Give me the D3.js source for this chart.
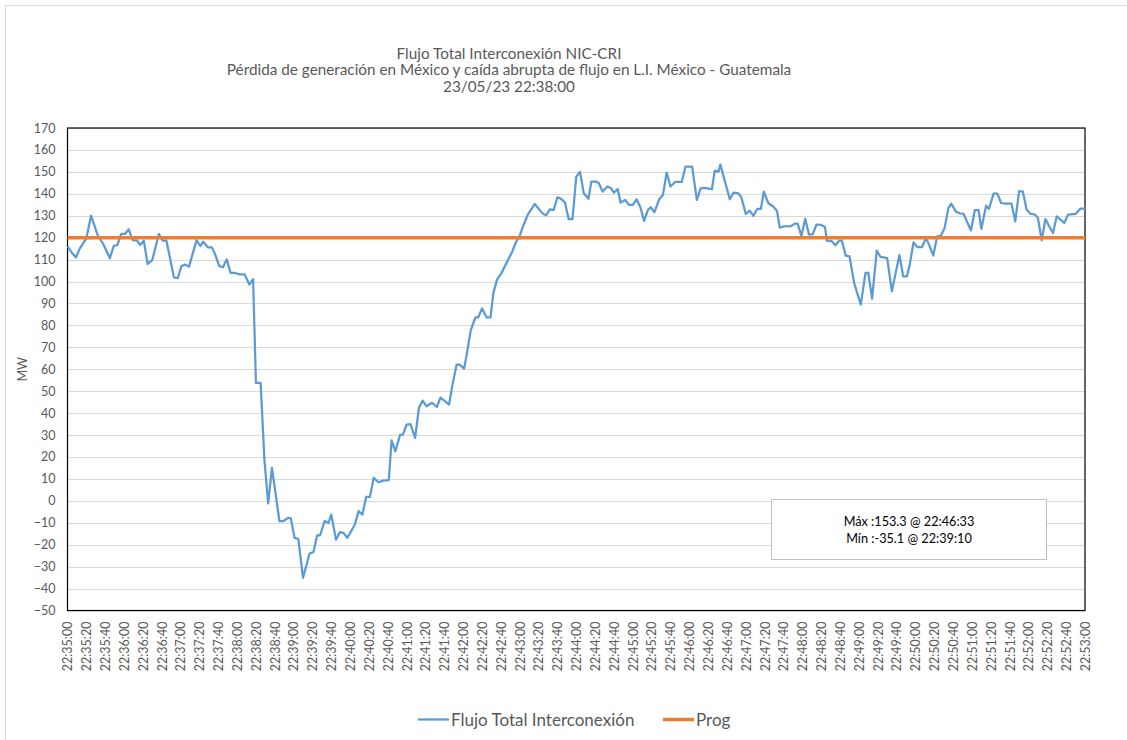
<!DOCTYPE html>
<html><head><meta charset="utf-8">
<script src="https://cdn.jsdelivr.net/npm/d3@7"></script>
<style>
html,body{margin:0;padding:0;background:#fff;}
svg{display:block;font-family:Lato,"Open Sans",sans-serif;}
</style></head>
<body><svg id="c" width="1127" height="740"></svg>
<script>
// ---- data ----
const titleLines = ["Flujo Total Interconexión NIC-CRI",
  "Pérdida de generación en México y caída abrupta de flujo en L.I. México - Guatemala",
  "23/05/23 22:38:00"];
const startTime = "22:35:00";
const endTime = "22:53:00";
const yTicks = [-50,-40,-30,-20,-10,0,10,20,30,40,50,60,70,80,90,100,110,120,130,140,150,160,170];
// seconds after 22:35:00
const flujoSec = [0,5,9,13,20,25,32,38,45,49,53,57,61,65,69,74,77,81,85,90,97,101,105,113,117,121,125,129,137,141,144,149,153,156,161,165,169,173,177,182,188,193,197,
 200,205,209,213,217,225,229,234,237,241,245,250,257,261,265,268,273,277,280,285,289,293,297,305,309,313,317,321,325,330,335,341,344,348,353,356,360,364,369,373,377,381,387,392,396,405,408,413,416,421,424,428,433,436,440,445,449,
 452,456,461,465,472,476,480,484,489,493,496,501,505,508,512,516,520,524,528,532,536,540,544,548,553,556,561,564,568,573,577,580,584,587,592,596,600,604,608,
 612,616,619,623,628,632,636,640,645,652,656,663,668,672,676,684,687,691,693,703,707,712,715,720,724,728,732,736,739,744,749,753,756,760,768,772,775,779,783,787,791,795,800,
 804,806,811,815,819,822,826,830,835,842,847,850,854,859,863,870,875,883,887,891,894,898,902,907,911,914,919,923,927,931,935,938,943,947,951,959,963,967,970,975,978,983,987,991,995,1002,1006,1010,1014,1018,1022,1027,1030,1034,1038,1043,1046,1050,1054,1058,1062,1070,1075,1080];
const flujo = [116,112.9,111,115,119.7,130,121.2,117,110.6,116.2,116.7,121.7,121.7,123.8,118.9,118.6,116.7,118.6,108,109.8,121.7,118.6,118.6,101.9,101.5,107.1,107.7,106.8,118.9,116.2,118.2,115.6,115.6,113.2,107.1,106.5,110.1,104,104,103.3,103.3,98.6,101.1,
 53.8,53.8,18.8,-1.2,15,-9.3,-9.3,-7.8,-7.9,-16.9,-17.4,-35.1,-24,-23.4,-15.8,-15.8,-9.1,-10.1,-6.3,-17.7,-14.3,-14.6,-16.9,-10.8,-4.7,-6.3,1.8,1.8,10.5,8.5,9.2,9.4,27.6,22.6,30.1,30.2,34.8,35,28.7,42.4,45.7,43.1,44.7,42.8,47.1,43.9,51.5,62.1,62.1,60.3,67.4,77.8,83.6,83.7,87.7,83.6,83.6,
 94.7,101,104.1,107.6,113.6,117.9,120.8,125.8,130.8,133.4,135.4,132.6,130.8,130.2,132.9,132.6,138.4,137.7,136,128.4,128.4,147.8,150,140.2,137.7,145.6,145.6,144.8,141,143.3,142.5,140.5,142.2,136,137.2,134.9,134.9,137.5,134,
 127.6,132.6,133.9,131.6,137.5,139.5,149.7,143.3,145.4,145.4,152.4,152.4,137.2,142.5,142.7,142.1,150.6,150.1,153.3,137.5,140.5,140.2,138.7,130.8,132.3,129.9,133.1,133.1,141,135.7,134.2,132.3,124.6,125.1,125.3,126.4,126.4,120.7,128.6,121.5,121.5,126,125.8,
 124.9,118.6,118.5,116.5,118.6,118.6,111.8,111.5,99.3,89.5,103.9,103.9,92.2,114.1,111.2,110.7,95.5,112.1,102.4,102.4,107.7,117.9,115.7,115.7,119.7,117.3,111.8,120.6,120.9,124.4,133.5,135.5,131.9,131.1,130.9,123.3,132.5,132.5,124,134.6,133.1,140.1,140.1,135.8,135.5,135.5,127.4,141.1,141.1,132.8,130.9,130.5,129,118.8,128.5,124.4,122.1,129.7,128.2,126.7,130.5,130.8,133.2,133.2];
const progSec = [0,1080];
const prog = [120,120];
const seriesNames = ["Flujo Total Interconexión","Prog"];

// ---- drawing ----
const svg = d3.select("#c");
const parse = d3.timeParse("%H:%M:%S");
const t0 = parse(startTime), t1 = parse(endTime);
const toDate = s => new Date(t0.getTime() + s*1000);
const fmt = d3.timeFormat("%H:%M:%S");

const L = 67.5, R = 1085, T = 128, B = 610.5;
const x = d3.scaleTime().domain([t0,t1]).range([L,R]);
const y = d3.scaleLinear().domain([-50,170]).range([B,T]);

// outer chart border
svg.append("rect").attr("x",5.5).attr("y",5.5).attr("width",1140).attr("height",760)
  .attr("fill","#fff").attr("stroke","#d9d9d9").attr("stroke-width",1);

// gridlines
svg.append("g").selectAll("line").data(yTicks).join("line")
  .attr("x1",L).attr("x2",R).attr("y1",d=>Math.round(y(d))+0.5).attr("y2",d=>Math.round(y(d))+0.5)
  .attr("stroke","#d9d9d9").attr("stroke-width",1);

// y axis labels
const yAxis = d3.axisLeft(y).tickValues(yTicks).tickSize(0).tickPadding(12);
const gy = svg.append("g").attr("transform",`translate(${L},0)`).call(yAxis);
gy.select(".domain").remove();
gy.selectAll("text").attr("fill","#595959").style("font-size","12.5px").style("font-family","Lato");

// x axis labels
const xTicks = d3.timeSecond.every(20).range(t0, new Date(t1.getTime()+1));
const xAxis = d3.axisBottom(x).tickValues(xTicks).tickFormat(fmt).tickSize(0).tickPadding(0);
const gx = svg.append("g").attr("transform",`translate(0,${B})`).call(xAxis);
gx.select(".domain").remove();
gx.selectAll("text").attr("fill","#595959").style("font-size","12.5px").style("font-family","Lato")
  .attr("text-anchor","end").attr("dy","0.35em").attr("y",0)
  .attr("transform","translate(0,11) rotate(-90)");

// plot border
svg.append("rect").attr("x",L).attr("y",T).attr("width",R-L).attr("height",B-T)
  .attr("fill","none").attr("stroke","#000").attr("stroke-width",1.2);

// series
const flujoData = flujoSec.map((s,i)=>({t:toDate(s),v:flujo[i]}));
const progData = progSec.map((s,i)=>({t:toDate(s),v:prog[i]}));
const line = d3.line().x(d=>x(d.t)).y(d=>y(d.v));
svg.append("path").datum(flujoData).attr("d",line).attr("fill","none")
  .attr("stroke","#5B9BD5").attr("stroke-width",2.25).attr("stroke-linejoin","round");
svg.append("path").datum(progData).attr("d",line).attr("fill","none")
  .attr("stroke","#ED7D31").attr("stroke-width",3.5);

// title
svg.append("g").selectAll("text").data(titleLines).join("text")
  .attr("x",509).attr("y",(d,i)=>58.5+i*16.7).attr("text-anchor","middle")
  .attr("fill","#595959").style("font-size","15.3px").text(d=>d);

// y axis title
svg.append("text").attr("transform",`translate(27,${(T+B)/2}) rotate(-90)`)
  .attr("text-anchor","middle").attr("fill","#595959").style("font-size","12.5px").text("MW");

// stats box
const iMax = d3.maxIndex(flujo), iMin = d3.minIndex(flujo);
const stats = [`Máx :${flujo[iMax].toFixed(1)} @ ${fmt(toDate(flujoSec[iMax]))}`,
               `Mín :${flujo[iMin].toFixed(1)} @ ${fmt(toDate(flujoSec[iMin]))}`];
svg.append("rect").attr("x",771.5).attr("y",499.5).attr("width",275).attr("height",60)
  .attr("fill","#fff").attr("stroke","#bfbfbf").attr("stroke-width",1);
svg.append("g").selectAll("text").data(stats).join("text")
  .attr("x",909).attr("y",(d,i)=>526+i*16.7).attr("text-anchor","middle")
  .attr("fill","#000").style("font-size","12.7px").text(d=>d);

// legend
const legend = [{name:seriesNames[0],color:"#5B9BD5",w:2.25,x:418},{name:seriesNames[1],color:"#ED7D31",w:3.5,x:663}];
const lg = svg.append("g").selectAll("g").data(legend).join("g").attr("transform",d=>`translate(${d.x},719.5)`);
lg.append("line").attr("x1",0).attr("x2",31).attr("stroke",d=>d.color).attr("stroke-width",d=>d.w);
lg.append("text").attr("x",33).attr("y",6).attr("fill","#595959").style("font-size","17px").text(d=>d.name);
</script></body></html>
